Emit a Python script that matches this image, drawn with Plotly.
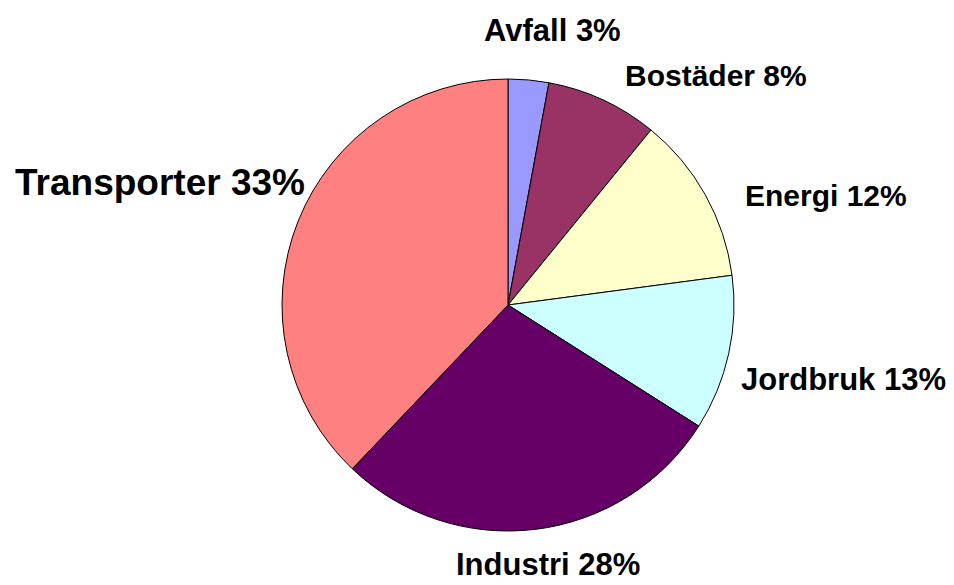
import plotly.graph_objects as go

# data ---------------------------------------------------------------
sectors = ["Avfall", "Bostäder", "Energi", "Jordbruk", "Industri", "Transporter"]
label_pct = ["3%", "8%", "12%", "13%", "28%", "33%"]
# slice sizes as drawn in the picture (angles)
shares = [2.9, 8.0, 12.0, 11.1, 28.1, 37.9]
colors = ["#9999FF", "#993366", "#FFFFCC", "#CCFFFF", "#660066", "#FF8080"]

# label positions in pixels (centre), font size
label_pos = {
    "Avfall": (552, 30, 31),
    "Bostäder": (716, 75, 30),
    "Energi": (826, 196, 30),
    "Jordbruk": (843, 379, 31),
    "Industri": (548, 564, 31),
    "Transporter": (160, 182, 37),
}

W, H = 954, 585
cx, cy, r = 508, 305, 226

fig = go.Figure(
    go.Pie(
        labels=sectors,
        values=shares,
        sort=False,
        direction="clockwise",
        rotation=0,
        marker=dict(colors=colors, line=dict(color="black", width=1)),
        textinfo="none",
        hoverinfo="label+percent",
        showlegend=False,
        domain=dict(x=[(cx - r) / W, (cx + r) / W], y=[(H - cy - r) / H, (H - cy + r) / H]),
    )
)

for name, pct in zip(sectors, label_pct):
    px, py, fs = label_pos[name]
    fig.add_annotation(
        x=px / W, y=1 - py / H, xref="paper", yref="paper",
        text=f"<b>{name} {pct}</b>", showarrow=False,
        xanchor="center", yanchor="middle",
        font=dict(family="Liberation Sans, Arial", size=fs, color="black"),
    )

fig.update_layout(
    width=W, height=H,
    margin=dict(l=0, r=0, t=0, b=0),
    paper_bgcolor="white", plot_bgcolor="white",
)

# drop the default body margin so the figure sits at the page corner
fig.write_html("out.html", config={"displayModeBar": False},
               post_script="document.body.style.margin='0';")
